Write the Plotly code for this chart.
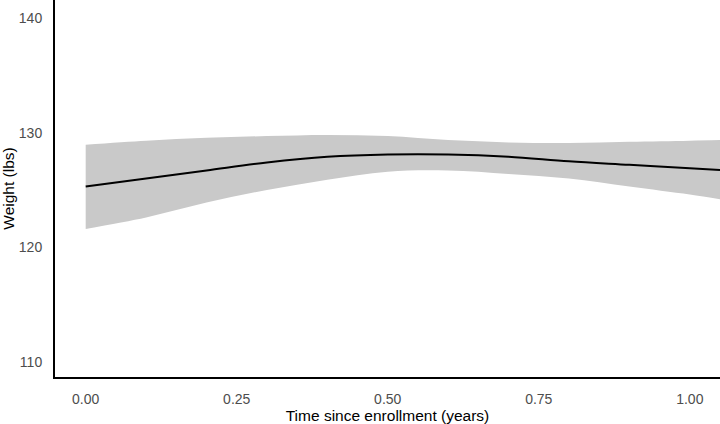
import plotly.graph_objects as go

# Fitted curve with 95% band
time_years = [0.0, 0.1, 0.2, 0.3, 0.4, 0.5, 0.6, 0.7, 0.8, 0.9, 1.0, 1.05]
weight_fit = [125.3, 126.0, 126.7, 127.4, 127.9, 128.1, 128.1, 127.9, 127.5, 127.2, 126.9, 126.75]
weight_upper = [128.95, 129.3, 129.55, 129.7, 129.8, 129.7, 129.35, 129.15, 129.1, 129.2, 129.3, 129.35]
weight_lower = [121.6, 122.6, 123.9, 125.0, 125.9, 126.6, 126.7, 126.4, 126.0, 125.3, 124.6, 124.2]

x_ticks = [0.0, 0.25, 0.5, 0.75, 1.0]
x_ticktext = ["0.00", "0.25", "0.50", "0.75", "1.00"]
y_ticks = [110, 120, 130, 140]

FONT = "Liberation Sans, Arial, sans-serif"

fig = go.Figure()

# Confidence band: lower edge, then upper edge filled down to it
fig.add_trace(go.Scatter(
    x=time_years,
    y=weight_lower,
    mode="lines",
    line=dict(color="rgba(0,0,0,0)", width=0, shape="spline"),
    showlegend=False,
    hoverinfo="skip",
))
fig.add_trace(go.Scatter(
    x=time_years,
    y=weight_upper,
    mode="lines",
    fill="tonexty",
    fillcolor="#c9c9c9",
    line=dict(color="rgba(0,0,0,0)", width=0, shape="spline"),
    showlegend=False,
    hoverinfo="skip",
))

# Fitted line
fig.add_trace(go.Scatter(
    x=time_years,
    y=weight_fit,
    mode="lines",
    line=dict(color="black", width=2, shape="spline"),
    showlegend=False,
))

axis_common = dict(
    showgrid=False,
    zeroline=False,
    showline=True,
    linecolor="black",
    linewidth=2,
    ticks="outside",
    ticklen=8,
    tickcolor="rgba(0,0,0,0)",
    tickfont=dict(size=14, color="#4d4d4d", family=FONT),
    automargin=False,
)

fig.update_layout(
    width=720,
    height=424,
    paper_bgcolor="white",
    plot_bgcolor="white",
    margin=dict(l=55, r=0, t=0, b=47),
    font=dict(family=FONT, color="black", size=15.5),
    xaxis=dict(
        range=[-0.0508, 1.050],
        tickvals=x_ticks,
        ticktext=x_ticktext,
        title=dict(text="Time since enrollment (years)", standoff=5,
                   font=dict(size=15.5, color="black", family=FONT)),
        **axis_common,
    ),
    yaxis=dict(
        range=[108.69, 141.57],
        tickvals=y_ticks,
        title=dict(text="Weight (lbs)", standoff=4,
                   font=dict(size=15.5, color="black", family=FONT)),
        **axis_common,
    ),
)

fig.write_html("out.html", config={"displayModeBar": False},
               post_script="document.body.style.margin='0';")
